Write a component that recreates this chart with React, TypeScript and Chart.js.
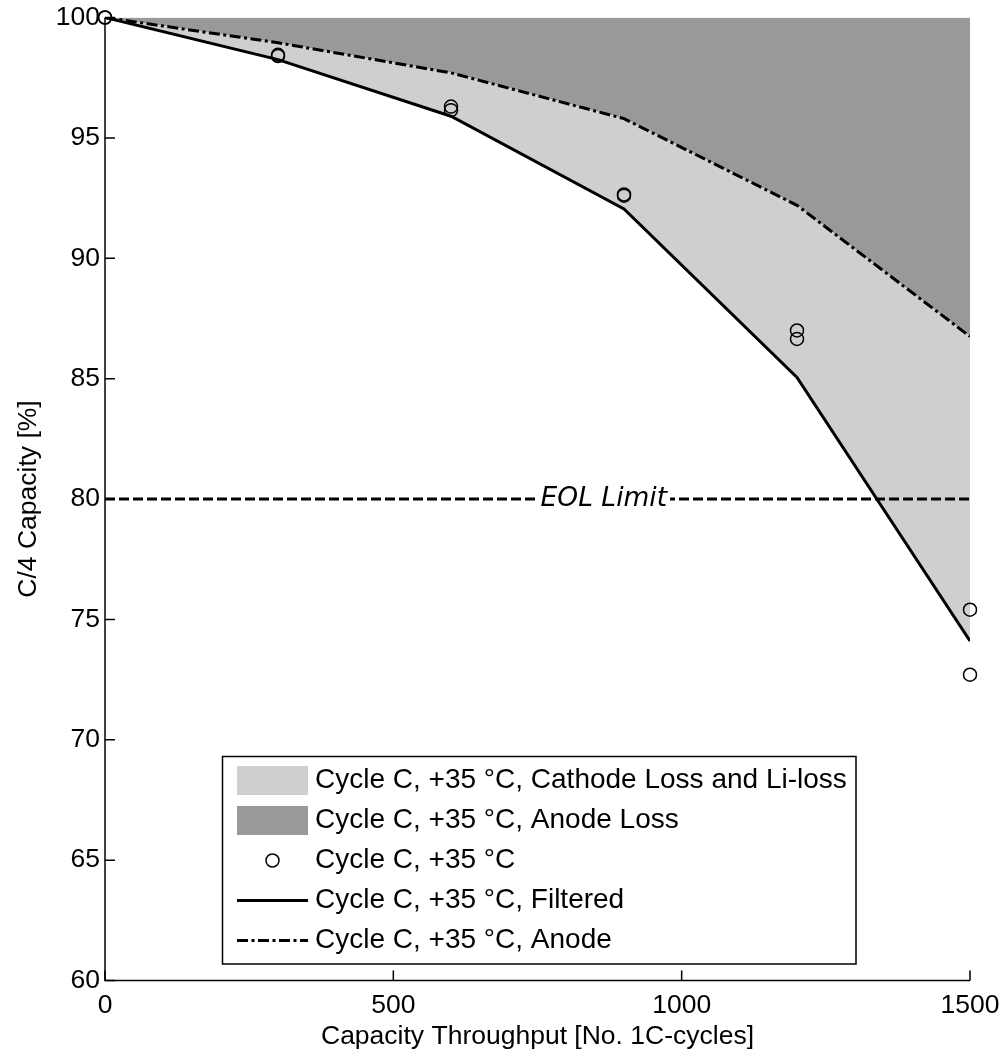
import React, { useEffect, useRef } from "react";
import { Chart, registerables } from "chart.js";

Chart.register(...registerables);

// ---- data ----
const CYCLES = [0, 300, 600, 900, 1200, 1500];
const FILTERED = [100, 98.25, 95.9, 92.05, 85.05, 74.1];
const ANODE = [100, 98.95, 97.7, 95.8, 92.2, 86.75];
const MEAS_X = [0, 0, 300, 300, 600, 600, 900, 900, 1200, 1200, 1500, 1500];
const MEAS_Y = [100, 100, 98.45, 98.4, 96.3, 96.15, 92.65, 92.6, 87.0, 86.65, 75.4, 72.7];
const EOL_X = [0, 1500];
const EOL_Y = [80, 80];
const EOL_LABEL = "EOL Limit";
const EOL_LABEL_X = 865;
const X_TICKS = [0, 500, 1000, 1500];
const Y_TICKS = [60, 65, 70, 75, 80, 85, 90, 95, 100];
const X_TITLE = "Capacity Throughput [No. 1C-cycles]";
const Y_TITLE = "C/4 Capacity [%]";
const LEGEND_LABELS = [
  "Cycle C, +35 \u00B0C, Cathode Loss and Li-loss",
  "Cycle C, +35 \u00B0C, Anode Loss",
  "Cycle C, +35 \u00B0C",
  "Cycle C, +35 \u00B0C, Filtered",
  "Cycle C, +35 \u00B0C, Anode",
];

const LIGHT = "#cfcfcf";
const DARK = "#999999";
const FONT = "'Liberation Sans', Arial, Helvetica, sans-serif";
const DASHDOT = [11, 3.5, 3, 3.5];
const DASHED = [10, 4];

const pts = (xs: number[], ys: number[]) => xs.map((x, i) => ({ x, y: ys[i] }));

const axesPlugin = {
  id: "matlabAxes",
  afterDatasetsDraw(chart: any) {
    const { ctx, chartArea: ca, scales } = chart;
    const xs = scales.x;
    const ys = scales.y;
    ctx.save();
    ctx.strokeStyle = "#000";
    ctx.lineWidth = 1.5;
    ctx.setLineDash([]);
    ctx.beginPath();
    ctx.moveTo(ca.left, ca.top);
    ctx.lineTo(ca.left, ca.bottom);
    ctx.lineTo(ca.right, ca.bottom);
    ctx.stroke();
    ctx.beginPath();
    X_TICKS.forEach((v) => {
      const px = xs.getPixelForValue(v);
      ctx.moveTo(px, ca.bottom);
      ctx.lineTo(px, ca.bottom - 10);
    });
    Y_TICKS.forEach((v) => {
      const py = ys.getPixelForValue(v);
      ctx.moveTo(ca.left, py);
      ctx.lineTo(ca.left + 10, py);
    });
    ctx.stroke();

    // EOL label
    const lx = xs.getPixelForValue(EOL_LABEL_X);
    const ly = ys.getPixelForValue(EOL_Y[0]);
    ctx.font = "italic 26.5px 'DejaVu Sans'";
    const w = ctx.measureText(EOL_LABEL).width;
    ctx.fillStyle = "#fff";
    ctx.fillRect(lx - w / 2 - 3, ly - 6, w + 6, 12);
    ctx.fillStyle = "#000";
    ctx.textAlign = "center";
    ctx.textBaseline = "middle";
    ctx.fillText(EOL_LABEL, lx, ly);
    ctx.restore();
  },
};

const legendPlugin = {
  id: "boxLegend",
  afterDraw(chart: any) {
    const { ctx, chartArea: ca } = chart;
    const bx = ca.left + 117.5;
    const by = ca.top + 739;
    const bw = 633.5;
    const bh = 207.5;
    ctx.save();
    ctx.fillStyle = "#fff";
    ctx.fillRect(bx, by, bw, bh);
    ctx.strokeStyle = "#000";
    ctx.lineWidth = 1.5;
    ctx.setLineDash([]);
    ctx.strokeRect(bx, by, bw, bh);
    const sx0 = bx + 14.5;
    const sx1 = bx + 85.5;
    const tx = bx + 92.5;
    LEGEND_LABELS.forEach((label, i) => {
      const cy = by + 24 + i * 40;
      ctx.setLineDash([]);
      if (i === 0 || i === 1) {
        ctx.fillStyle = i === 0 ? LIGHT : DARK;
        ctx.fillRect(sx0, cy - 14.5, sx1 - sx0, 29);
      } else if (i === 2) {
        ctx.strokeStyle = "#000";
        ctx.lineWidth = 1.5;
        ctx.beginPath();
        ctx.arc((sx0 + sx1) / 2, cy, 6.5, 0, Math.PI * 2);
        ctx.stroke();
      } else {
        ctx.strokeStyle = "#000";
        ctx.lineWidth = 3;
        ctx.setLineDash(i === 4 ? DASHDOT : []);
        ctx.beginPath();
        ctx.moveTo(sx0, cy);
        ctx.lineTo(sx1, cy);
        ctx.stroke();
      }
      ctx.setLineDash([]);
      ctx.fillStyle = "#000";
      ctx.font = `28px ${FONT}`;
      ctx.textAlign = "left";
      ctx.textBaseline = "middle";
      ctx.fillText(label, tx, cy);
    });
    ctx.restore();
  },
};

export default function App() {
  const ref = useRef<HTMLCanvasElement | null>(null);

  useEffect(() => {
    document.body.style.margin = "0";
    const canvas = ref.current;
    if (!canvas) return;
    const chart = new Chart(canvas, {
      type: "line",
      data: {
        datasets: [
          {
            label: LEGEND_LABELS[2],
            data: pts(MEAS_X, MEAS_Y),
            showLine: false,
            clip: false,
            pointRadius: 6.5,
            pointBorderWidth: 1.5,
            pointBorderColor: "#000",
            pointBackgroundColor: "rgba(0,0,0,0)",
            borderColor: "#000",
            fill: false,
          },
          {
            label: LEGEND_LABELS[3],
            data: pts(CYCLES, FILTERED),
            borderColor: "#000",
            borderWidth: 3,
            pointRadius: 0,
            fill: false,
            tension: 0,
          },
          {
            label: LEGEND_LABELS[4],
            data: pts(CYCLES, ANODE),
            borderColor: "#000",
            borderWidth: 3,
            borderDash: DASHDOT,
            pointRadius: 0,
            fill: false,
            tension: 0,
          },
          {
            label: EOL_LABEL,
            data: pts(EOL_X, EOL_Y),
            borderColor: "#000",
            borderWidth: 3,
            borderDash: DASHED,
            pointRadius: 0,
            fill: false,
          },
          {
            label: LEGEND_LABELS[0],
            data: pts(CYCLES, FILTERED),
            borderColor: "rgba(0,0,0,0)",
            borderWidth: 0,
            backgroundColor: LIGHT,
            pointRadius: 0,
            fill: 5,
          },
          {
            label: LEGEND_LABELS[1],
            data: pts(CYCLES, ANODE),
            borderColor: "rgba(0,0,0,0)",
            borderWidth: 0,
            backgroundColor: DARK,
            pointRadius: 0,
            fill: "end",
          },
        ],
      },
      options: {
        animation: false,
        responsive: false,
        maintainAspectRatio: false,
        devicePixelRatio: 1,
        layout: { padding: { top: 17.5, right: 38, left: 0, bottom: 0 } },
        plugins: {
          legend: { display: false },
          tooltip: { enabled: false },
          filler: { drawTime: "beforeDatasetsDraw" },
        } as any,
        scales: {
          x: {
            type: "linear",
            min: 0,
            max: 1500,
            afterBuildTicks: (s: any) => {
              s.ticks = X_TICKS.map((v) => ({ value: v }));
            },
            afterFit: (s: any) => {
              s.height = 75.5;
              s.paddingLeft = 0;
              s.paddingRight = 0;
            },
            grid: { display: false, drawTicks: false },
            border: { display: false },
            ticks: {
              padding: 9,
              color: "#000",
              font: { family: FONT, size: 26.5 },
              maxRotation: 0,
              autoSkip: false,
              callback: (v: any) => String(v),
            },
            title: {
              display: true,
              text: X_TITLE,
              color: "#000",
              font: { family: FONT, size: 26.5 },
              padding: { top: 0, bottom: 3 },
            },
          },
          y: {
            type: "linear",
            min: 60,
            max: 100,
            afterBuildTicks: (s: any) => {
              s.ticks = Y_TICKS.map((v) => ({ value: v }));
            },
            afterFit: (s: any) => {
              s.width = 105;
              s.paddingTop = 0;
              s.paddingBottom = 0;
            },
            grid: { display: false, drawTicks: false },
            border: { display: false },
            ticks: {
              padding: 5,
              color: "#000",
              font: { family: FONT, size: 26.5 },
              autoSkip: false,
              callback: (v: any) => String(v),
            },
            title: {
              display: true,
              text: Y_TITLE,
              color: "#000",
              font: { family: FONT, size: 26.5 },
              padding: { top: 13, bottom: 0 },
            },
          },
        },
      },
      plugins: [axesPlugin, legendPlugin],
    });
    return () => chart.destroy();
  }, []);

  return (
    <canvas
      ref={ref}
      width={1008}
      height={1056}
      style={{ display: "block", width: 1008, height: 1056 }}
    />
  );
}
